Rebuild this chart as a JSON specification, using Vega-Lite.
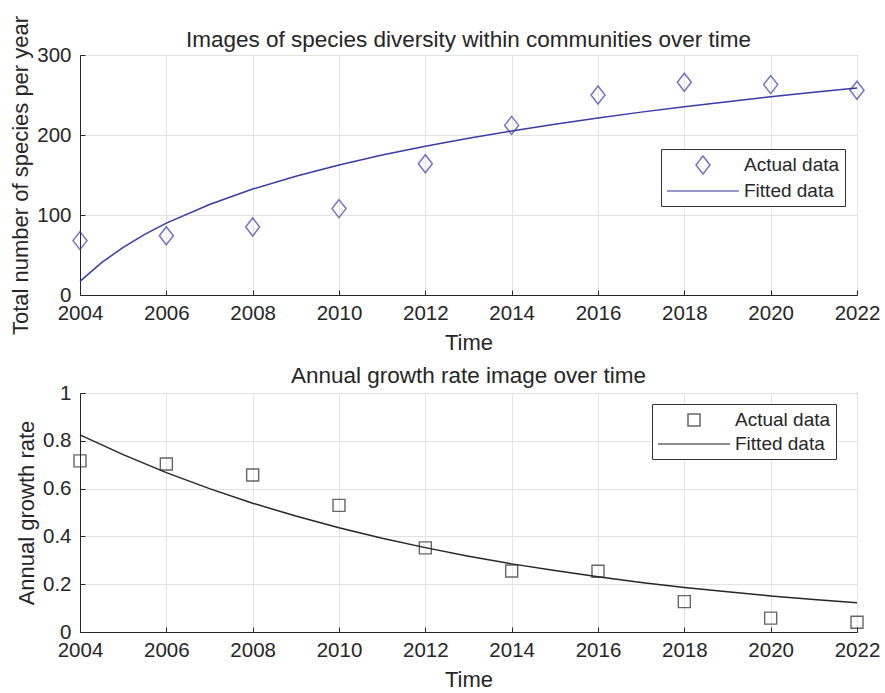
{
  "$schema": "https://vega.github.io/schema/vega-lite/v6.json",
  "padding": {"left": 9, "top": 14, "right": 2, "bottom": 0},
  "background": "white",
  "config": {
    "font": "Liberation Sans",
    "view": {"stroke": "#262626", "strokeWidth": 1},
    "axis": {
      "labelFont": "Liberation Sans", "labelFontSize": 20.5, "labelColor": "#262626", "labelFlush": false, "labelOverlap": false,
      "titleFont": "Liberation Sans", "titleFontSize": 22, "titleFontWeight": "normal", "titleColor": "#262626",
      "gridColor": "#e3e3e3", "domainColor": "#262626", "ticks": true, "tickSize": -5, "tickColor": "#262626"
    },
    "axisX": {"labelPadding": 13, "titlePadding": 9},
    "axisY": {"labelPadding": 14, "titlePadding": 4},
    "title": {"font": "Liberation Sans", "fontSize": 22.5, "fontWeight": "normal", "color": "#262626", "frame": "group", "baseline": "alphabetic"},
    "legend": {
      "labelFont": "Liberation Sans", "labelFontSize": 19, "labelColor": "#262626",
      "fillColor": "white", "strokeColor": "#333333", "padding": 5,
      "symbolSize": 400, "symbolStrokeWidth": 1.5, "symbolOffset": 26, "labelOffset": 30, "rowPadding": 3
    }
  },
  "datasets": {
    "speciesActual": [
      {"year": 2004, "value": 68, "series": "Actual data"},
      {"year": 2006, "value": 74, "series": "Actual data"},
      {"year": 2008, "value": 85, "series": "Actual data"},
      {"year": 2010, "value": 108, "series": "Actual data"},
      {"year": 2012, "value": 164, "series": "Actual data"},
      {"year": 2014, "value": 212, "series": "Actual data"},
      {"year": 2016, "value": 250, "series": "Actual data"},
      {"year": 2018, "value": 266, "series": "Actual data"},
      {"year": 2020, "value": 263, "series": "Actual data"},
      {"year": 2022, "value": 256, "series": "Actual data"}
    ],
    "speciesFitted": [
      {"year": 2004, "value": 17, "series": "Fitted data"},
      {"year": 2004.5, "value": 40.4, "series": "Fitted data"},
      {"year": 2005, "value": 59.6, "series": "Fitted data"},
      {"year": 2005.5, "value": 75.8, "series": "Fitted data"},
      {"year": 2006, "value": 89.8, "series": "Fitted data"},
      {"year": 2007, "value": 113.2, "series": "Fitted data"},
      {"year": 2008, "value": 132.4, "series": "Fitted data"},
      {"year": 2009, "value": 148.5, "series": "Fitted data"},
      {"year": 2010, "value": 162.6, "series": "Fitted data"},
      {"year": 2011, "value": 174.9, "series": "Fitted data"},
      {"year": 2012, "value": 186, "series": "Fitted data"},
      {"year": 2013, "value": 196, "series": "Fitted data"},
      {"year": 2014, "value": 205.1, "series": "Fitted data"},
      {"year": 2015, "value": 213.5, "series": "Fitted data"},
      {"year": 2016, "value": 221.3, "series": "Fitted data"},
      {"year": 2017, "value": 228.6, "series": "Fitted data"},
      {"year": 2018, "value": 235.3, "series": "Fitted data"},
      {"year": 2019, "value": 241.7, "series": "Fitted data"},
      {"year": 2020, "value": 247.7, "series": "Fitted data"},
      {"year": 2021, "value": 253.4, "series": "Fitted data"},
      {"year": 2022, "value": 258.8, "series": "Fitted data"}
    ],
    "growthActual": [
      {"year": 2004, "value": 0.716, "series": "Actual data"},
      {"year": 2006, "value": 0.703, "series": "Actual data"},
      {"year": 2008, "value": 0.657, "series": "Actual data"},
      {"year": 2010, "value": 0.530, "series": "Actual data"},
      {"year": 2012, "value": 0.352, "series": "Actual data"},
      {"year": 2014, "value": 0.255, "series": "Actual data"},
      {"year": 2016, "value": 0.254, "series": "Actual data"},
      {"year": 2018, "value": 0.127, "series": "Actual data"},
      {"year": 2020, "value": 0.058, "series": "Actual data"},
      {"year": 2022, "value": 0.041, "series": "Actual data"}
    ],
    "growthFitted": [
      {"year": 2004, "value": 0.825, "series": "Fitted data"},
      {"year": 2005, "value": 0.742, "series": "Fitted data"},
      {"year": 2006, "value": 0.667, "series": "Fitted data"},
      {"year": 2007, "value": 0.600, "series": "Fitted data"},
      {"year": 2008, "value": 0.539, "series": "Fitted data"},
      {"year": 2009, "value": 0.485, "series": "Fitted data"},
      {"year": 2010, "value": 0.436, "series": "Fitted data"},
      {"year": 2011, "value": 0.392, "series": "Fitted data"},
      {"year": 2012, "value": 0.353, "series": "Fitted data"},
      {"year": 2013, "value": 0.317, "series": "Fitted data"},
      {"year": 2014, "value": 0.285, "series": "Fitted data"},
      {"year": 2015, "value": 0.257, "series": "Fitted data"},
      {"year": 2016, "value": 0.231, "series": "Fitted data"},
      {"year": 2017, "value": 0.207, "series": "Fitted data"},
      {"year": 2018, "value": 0.186, "series": "Fitted data"},
      {"year": 2019, "value": 0.168, "series": "Fitted data"},
      {"year": 2020, "value": 0.151, "series": "Fitted data"},
      {"year": 2021, "value": 0.136, "series": "Fitted data"},
      {"year": 2022, "value": 0.122, "series": "Fitted data"}
    ]
  },
  "spacing": 10,
  "vconcat": [
    {
      "title": {"text": "Images of species diversity within communities over time", "offset": -36},
      "width": 777,
      "height": 240,
      "encoding": {
        "x": {"field": "year", "type": "quantitative", "scale": {"domain": [2004, 2022], "nice": false, "zero": false},
              "axis": {"values": [2004, 2006, 2008, 2010, 2012, 2014, 2016, 2018, 2020, 2022], "format": "d", "title": "Time"}},
        "y": {"field": "value", "type": "quantitative", "scale": {"domain": [0, 300], "nice": false},
              "axis": {"values": [0, 100, 200, 300], "title": "Total number of species per year"}}
      },
      "layer": [
        {
          "data": {"name": "speciesFitted"},
          "mark": {"type": "line", "strokeWidth": 1.5},
          "encoding": {
            "color": {"field": "series", "type": "nominal",
                      "scale": {"domain": ["Actual data", "Fitted data"], "range": ["#3a3aa6", "#3a3aa6"]},
                      "legend": {"title": null, "orient": "none", "legendX": 581, "legendY": 94}}
          }
        },
        {
          "data": {"name": "speciesActual"},
          "mark": {"type": "point", "filled": false, "size": 400, "strokeWidth": 1.5},
          "encoding": {
            "color": {"field": "series", "type": "nominal",
                      "scale": {"domain": ["Actual data", "Fitted data"], "range": ["#3a3aa6", "#3a3aa6"]},
                      "legend": {"title": null, "orient": "none", "legendX": 581, "legendY": 94}},
            "shape": {"field": "series", "type": "nominal",
                      "scale": {"domain": ["Actual data", "Fitted data"], "range": ["M0,-0.9L0.7,0L0,0.9L-0.7,0Z", "M-3.6,0L3.6,0"]},
                      "legend": {"title": null, "orient": "none", "legendX": 581, "legendY": 94}}
          }
        }
      ]
    },
    {
      "title": {"text": "Annual growth rate image over time", "offset": -4},
      "width": 777,
      "height": 239,
      "encoding": {
        "x": {"field": "year", "type": "quantitative", "scale": {"domain": [2004, 2022], "nice": false, "zero": false},
              "axis": {"values": [2004, 2006, 2008, 2010, 2012, 2014, 2016, 2018, 2020, 2022], "format": "d", "title": "Time"}},
        "y": {"field": "value", "type": "quantitative", "scale": {"domain": [0, 1], "nice": false},
              "axis": {"values": [0, 0.2, 0.4, 0.6, 0.8, 1], "labelExpr": "datum.value == 0 ? '0' : datum.value == 1 ? '1' : format(datum.value, '.1f')", "title": "Annual growth rate"}}
      },
      "layer": [
        {
          "data": {"name": "growthFitted"},
          "mark": {"type": "line", "strokeWidth": 1.5},
          "encoding": {
            "color": {"field": "series", "type": "nominal",
                      "scale": {"domain": ["Actual data", "Fitted data"], "range": ["#262626", "#262626"]},
                      "legend": {"title": null, "orient": "none", "legendX": 572, "legendY": 11}}
          }
        },
        {
          "data": {"name": "growthActual"},
          "mark": {"type": "point", "filled": false, "size": 400, "strokeWidth": 1.4},
          "encoding": {
            "color": {"field": "series", "type": "nominal",
                      "scale": {"domain": ["Actual data", "Fitted data"], "range": ["#262626", "#262626"]},
                      "legend": {"title": null, "orient": "none", "legendX": 572, "legendY": 11}},
            "shape": {"field": "series", "type": "nominal",
                      "scale": {"domain": ["Actual data", "Fitted data"], "range": ["M-0.6,-0.6L0.6,-0.6L0.6,0.6L-0.6,0.6Z", "M-3.6,0L3.6,0"]},
                      "legend": {"title": null, "orient": "none", "legendX": 572, "legendY": 11}}
          }
        }
      ]
    }
  ],
  "resolve": {"scale": {"color": "independent", "shape": "independent"}, "legend": {"color": "independent", "shape": "independent"}}
}
